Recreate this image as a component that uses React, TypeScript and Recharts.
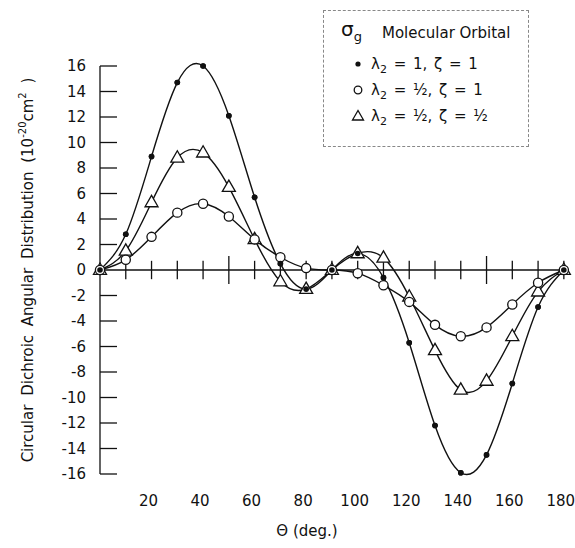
import { LineChart, Line, XAxis, YAxis, ReferenceLine, Legend, Label } from "recharts";

const angles = [0, 10, 20, 30, 40, 50, 60, 70, 80, 90, 100, 110, 120, 130, 140, 150, 160, 170, 180];
// λ2 = 1, ζ = 1 (filled dots)
const fullOrbital = [0, 2.8, 8.9, 14.7, 16.0, 12.1, 5.7, 0.5, -1.5, 0, 1.3, -0.6, -5.7, -12.2, -15.9, -14.5, -8.9, -2.9, 0];
// λ2 = ½, ζ = 1 (open circles)
const halfLambda = [0, 0.8, 2.6, 4.5, 5.2, 4.2, 2.4, 1.0, 0.15, 0, -0.25, -1.2, -2.5, -4.3, -5.2, -4.5, -2.7, -1.0, 0];
// λ2 = ½, ζ = ½ (open triangles)
const halfBoth = [0, 1.5, 5.3, 8.8, 9.2, 6.5, 2.4, -0.9, -1.5, 0, 1.3, 0.95, -2.1, -6.3, -9.4, -8.7, -5.2, -1.7, 0];

const xTicks = [20, 40, 60, 80, 100, 120, 140, 160, 180];
const xMarks = [10, 20, 30, 40, 50, 60, 70, 80, 90, 100, 110, 120, 130, 140, 150, 160, 170, 180];
const yTicks = [-16, -14, -12, -10, -8, -6, -4, -2, 0, 2, 4, 6, 8, 10, 12, 14, 16];

const data = angles.map((angle, i) => ({
  angle,
  full: fullOrbital[i],
  halfL: halfLambda[i],
  halfB: halfBoth[i],
}));

const FONT = "'DejaVu Sans', sans-serif";
const INK = "#111";

const FilledDot = (p: any) => <circle key={`f-${p.index}`} cx={p.cx} cy={p.cy} r={2.8} fill={INK} />;
const OpenDot = (p: any) => (
  <circle key={`o-${p.index}`} cx={p.cx} cy={p.cy} r={4.6} fill="#fff" stroke={INK} strokeWidth={1.3} />
);
const TriDot = (p: any) => (
  <path
    key={`t-${p.index}`}
    d={`M${p.cx},${p.cy - 7} L${p.cx - 6.5},${p.cy + 4.3} L${p.cx + 6.5},${p.cy + 4.3} Z`}
    fill="#fff"
    stroke={INK}
    strokeWidth={1.3}
  />
);

const XTick = ({ x, y, payload }: any) => (
  <text x={x - 3} y={y + 27} textAnchor="middle" dominantBaseline="central" fontFamily={FONT} fontSize={15} fill={INK}>
    {payload.value}
  </text>
);

const YTick = ({ x, y, payload }: any) => (
  <text x={x - 14} y={y} textAnchor="end" dominantBaseline="central" fontFamily={FONT} fontSize={15} fill={INK}>
    {payload.value}
  </text>
);

const YTitle = ({ viewBox }: any) => {
  const cx = 28;
  const cy = viewBox ? viewBox.y + viewBox.height / 2 : 270;
  return (
    <text
      x={cx}
      y={cy}
      transform={`rotate(-90 ${cx} ${cy})`}
      textAnchor="middle"
      dominantBaseline="central"
      fontFamily={FONT}
      fontSize={15}
      fill={INK}
      wordSpacing={4}
    >
      Circular Dichroic Angular Distribution (10
      <tspan dy={-6} fontSize={10}>-20</tspan>
      <tspan dy={6}>cm</tspan>
      <tspan dy={-6} fontSize={10}>2</tspan>
      <tspan dy={6}> )</tspan>
    </text>
  );
};

const XTitle = ({ viewBox }: any) => {
  const vx = viewBox ? viewBox.x : 100;
  const vy = viewBox ? viewBox.y : 474;
  return (
    <text x={vx + 207} y={vy + 57} textAnchor="middle" dominantBaseline="central" fontFamily={FONT} fontSize={15} fill={INK}>
      Θ (deg.)
    </text>
  );
};

const legendRows = [
  { marker: "filled", text: <>λ<sub style={{ fontSize: 11 }}>2</sub> = 1, ζ = 1</> },
  { marker: "open", text: <>λ<sub style={{ fontSize: 11 }}>2</sub> = ½, ζ = 1</> },
  { marker: "tri", text: <>λ<sub style={{ fontSize: 11 }}>2</sub> = ½, ζ = ½</> },
];

const LegendBox = () => (
  <div
    style={{
      position: "relative",
      width: 206,
      height: 137,
      boxSizing: "border-box",
      border: "1px dashed #888",
      background: "#fff",
      fontFamily: FONT,
      fontSize: 15,
      color: INK,
      lineHeight: "18px",
    }}
  >
    <span style={{ position: "absolute", left: 17, top: 9, fontSize: 20 }}>
      σ<sub style={{ fontSize: 13 }}>g</sub>
    </span>
    <span style={{ position: "absolute", left: 58, top: 13 }}>Molecular Orbital</span>
    {legendRows.map((r, i) => {
      const top = 44 + i * 26;
      return (
        <div key={i}>
          <svg style={{ position: "absolute", left: 26, top: top + 1 }} width={16} height={16}>
            {r.marker === "filled" && <circle cx={8} cy={8} r={2.6} fill={INK} />}
            {r.marker === "open" && <circle cx={8} cy={8} r={3.8} fill="#fff" stroke={INK} strokeWidth={1.3} />}
            {r.marker === "tri" && <path d="M8,2.5 L2.5,12 L13.5,12 Z" fill="#fff" stroke={INK} strokeWidth={1.3} />}
          </svg>
          <span style={{ position: "absolute", left: 47, top, whiteSpace: "nowrap", wordSpacing: 2 }}>{r.text}</span>
        </div>
      );
    })}
  </div>
);

export default function App() {
  return (
    <div style={{ position: "absolute", left: 0, top: 0, width: 575, height: 548, background: "#fff" }}>
      <LineChart width={575} height={548} data={data} margin={{ top: 66, right: 6, left: 0, bottom: 0 }}>
        <XAxis
          dataKey="angle"
          type="number"
          domain={[0, 182]}
          ticks={xTicks}
          axisLine={false}
          tickLine={false}
          tickSize={0}
          tickMargin={0}
          height={74}
          tick={<XTick />}
          interval={0}
        >
          <Label content={<XTitle />} />
        </XAxis>
        <YAxis
          type="number"
          domain={[-16, 16]}
          ticks={yTicks}
          width={100}
          axisLine={{ stroke: INK, strokeWidth: 1.3 }}
          tickLine={false}
          tickSize={0}
          tickMargin={0}
          tick={<YTick />}
          interval={0}
        >
          <Label content={<YTitle />} />
        </YAxis>
        <ReferenceLine y={0} stroke={INK} strokeWidth={1.3} />
        {yTicks
          .filter((v) => v !== 0)
          .map((v) => (
            <ReferenceLine key={`yt${v}`} segment={[{ x: 0, y: v }, { x: 6.6, y: v }]} stroke={INK} strokeWidth={1.3} />
          ))}
        {xMarks.map((t) => {
          const h = t === 50 || t === 150 ? 1.1 : 0.72;
          return (
            <ReferenceLine key={`xt${t}`} segment={[{ x: t, y: -h }, { x: t, y: h }]} stroke={INK} strokeWidth={1.3} />
          );
        })}
        <Line type="natural" dataKey="full" stroke={INK} strokeWidth={1.4} dot={FilledDot} isAnimationActive={false} />
        <Line type="natural" dataKey="halfB" stroke={INK} strokeWidth={1.4} dot={TriDot} isAnimationActive={false} />
        <Line type="natural" dataKey="halfL" stroke={INK} strokeWidth={1.4} dot={OpenDot} isAnimationActive={false} />
        <Line dataKey="full" stroke="none" dot={FilledDot} legendType="none" isAnimationActive={false} />
        <Legend
          layout="vertical"
          align="center"
          verticalAlign="middle"
          wrapperStyle={{ left: 323, top: 10, width: 206, height: 137 }}
          content={<LegendBox />}
        />
      </LineChart>
    </div>
  );
}
